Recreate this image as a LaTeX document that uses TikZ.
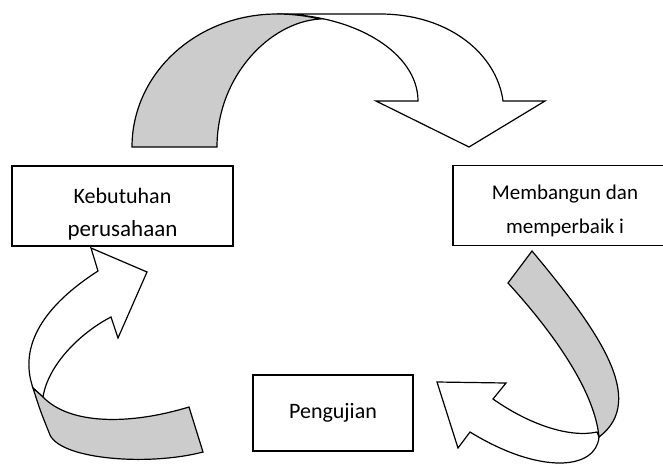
\documentclass[tikz,border=0pt]{standalone}
\usepackage{fontspec}
\setmainfont{Carlito}
\begin{document}
\begin{tikzpicture}[x=1pt,y=-1pt,line width=1.2pt,
	box/.style={draw,rectangle,minimum width=#1,minimum height=80pt,inner sep=0pt,align=center,font=\fontsize{22}{33}\selectfont},
	back/.style={draw,fill=black!20},
	front/.style={draw,fill=white}]
	\useasboundingbox (0,0) rectangle (663,464);
	\node[box=221pt] (butuh) at (122.5,206) {\rule{0pt}{31pt}Kebutuhan\\{\fontsize{23}{33}\selectfont perusahaan}};
	\node[box=224pt,font=\fontsize{21}{34}\selectfont] (bangun) at (565,205.5) {\rule{0pt}{26pt}Membangun dan\\memperbaik i};
	\node[box=160pt,minimum height=76pt,font=\fontsize{22}{26}\selectfont] (uji) at (333,413) {Pengujian};
	\draw[front] (277,14)--(380,14) .. controls (450,14) and (497,55) .. (503,101)--(545,101)--(469,147)--(376,101)--(418,101) .. controls (418,53) and (355,14) .. cycle;
	\draw[back] (132,147) .. controls (132,73) and (197,14) .. (277,14) .. controls (293,14) and (307,16) .. (320,19) .. controls (270,22) and (217,76) .. (217,147)--cycle;
	\draw[front] (33,388) .. controls (18,345) and (45,305) .. (98,271)--(91,248)--(147,272)--(118,338)--(111,317) .. controls (80,333) and (48,365) .. (43,397)--cycle;
	\draw[back] (33,388) .. controls (40,410) .. (50,435) .. controls (62,460) and (150,466) .. (203,452)--(189,407) .. controls (130,425) and (70,425) .. (43,397)--cycle;
	\draw[front] (599,437) .. controls (596,470) and (540,475) .. (470,432)--(458,448)--(437,382)--(506,383)--(493,399) .. controls (530,425) and (570,438) .. (597,432)--cycle;
	\draw[back] (532,251) .. controls (598,330) and (648,400) .. (599,437) .. controls (595,395) and (560,340) .. (508,283)--cycle;
\end{tikzpicture}
\end{document}
